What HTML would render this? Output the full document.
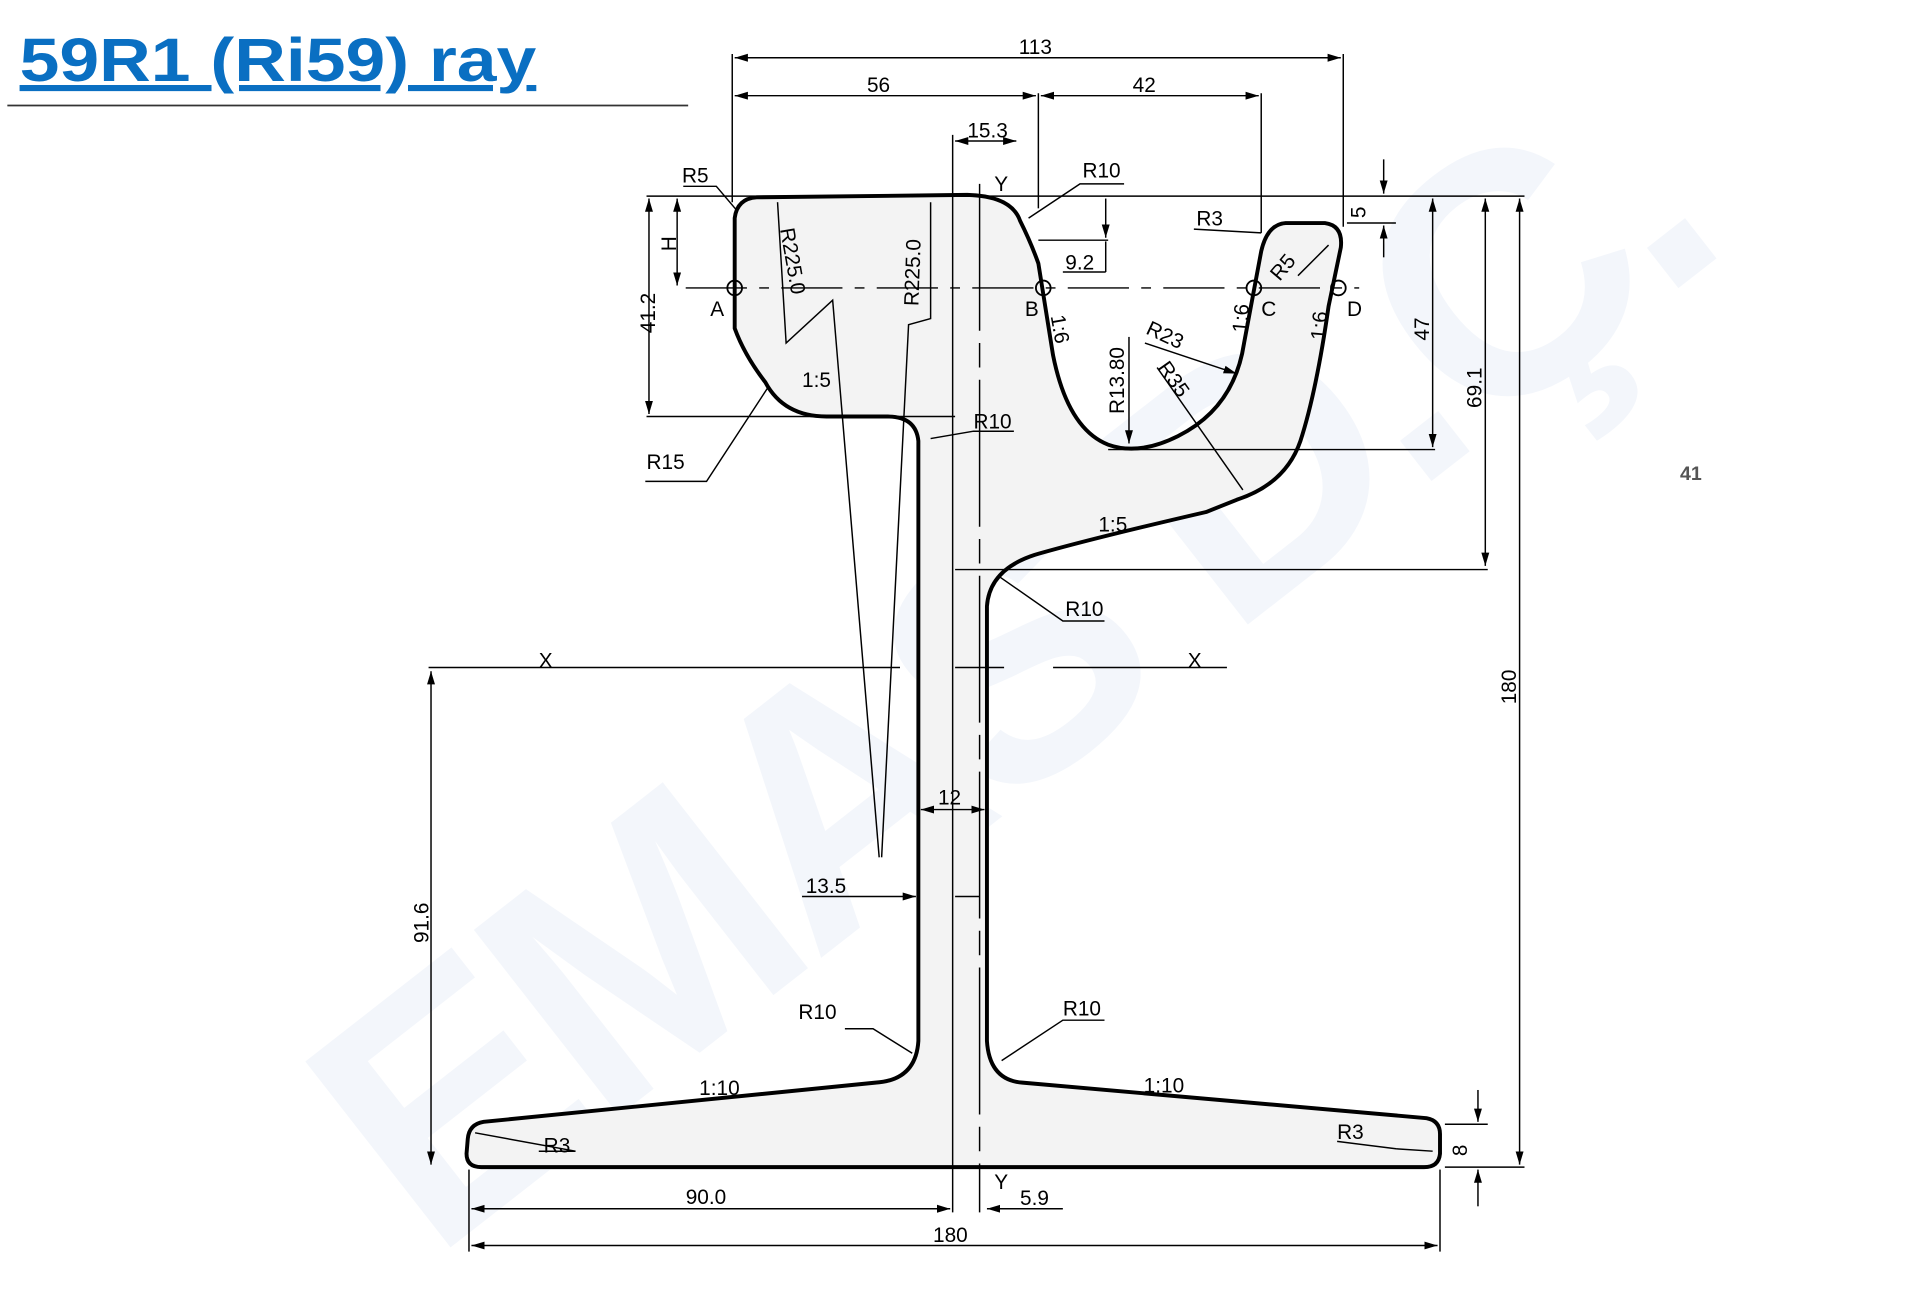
<!DOCTYPE html>
<html><head><meta charset="utf-8"><style>
html,body{margin:0;padding:0;background:#fff;}
svg{display:block;}
text{font-family:"Liberation Sans",sans-serif;}
.d{stroke:#000;stroke-width:1.2;fill:none;}
.t{font-size:17px;fill:#000;}
</style></head><body>
<svg width="1920" height="1302" viewBox="0 0 1568 1063" xmlns="http://www.w3.org/2000/svg">
<defs><marker id="a" viewBox="0 0 10 10" refX="10" refY="5" markerWidth="9" markerHeight="9" orient="auto-start-reverse"><path d="M0,2 L10,5 L0,8 z" fill="#000"/></marker></defs>
<!-- watermark -->
<g fill="#f3f6fb" font-size="280" font-weight="bold" transform="rotate(-38 760 560)"><text x="150" y="680" textLength="1350" style="font-family:'Liberation Sans',sans-serif">EMAS D.Ç.</text></g>
<!-- title -->
<text x="16" y="66" font-size="50" font-weight="bold" fill="#0a6fc2" text-decoration="underline" textLength="422" lengthAdjust="spacingAndGlyphs" style="font-family:'Liberation Sans',sans-serif">59R1 (Ri59) ray</text>
<line x1="6" y1="86" x2="562" y2="86" stroke="#333" stroke-width="1.5"/>
<text x="1372" y="392" font-size="16" fill="#555" font-weight="bold">41</text>
<!-- rail -->
<path fill="#f3f3f3" stroke="#000" stroke-width="3.2" stroke-linejoin="round" d="
M600,178 Q602,162 618,161 L790,159 Q826,160 833,180 Q842,198 848,215 L860,290 Q872,350 905,363 Q930,372 962,356 Q1008,333 1016,280 L1030,205 Q1035,183 1050,182 L1082,182 Q1097,184 1095,202 L1085,250 Q1075,320 1062,360 Q1050,395 1010,408 L985,418 Q890,440 845,453 Q808,465 806,495 L806,850 Q808,882 835,884 L1165,913 Q1176,915 1176,926 L1176,942 Q1175,953 1163,953 L393,953 Q381,953 381,942 L382,930 Q383,918 395,916 L715,884 Q748,882 750,850 L750,360 Q748,340 725,340 L675,340 Q640,340 625,312 Q608,290 600,268 Z"/>
<!-- centre lines -->
<g class="d">
<line x1="778" y1="110" x2="778" y2="990"/>
<line x1="800" y1="150" x2="800" y2="990" stroke-dasharray="120 10 20 10"/>
<line x1="560" y1="235" x2="1110" y2="235" stroke-dasharray="50 10 8 10"/>
<line x1="350" y1="545" x2="735" y2="545"/><line x1="780" y1="545" x2="820" y2="545"/><line x1="860" y1="545" x2="1002" y2="545"/>
</g>
<g fill="none" stroke="#000" stroke-width="1.5"><circle cx="600" cy="235" r="6"/><circle cx="852" cy="235" r="6"/><circle cx="1024" cy="235" r="6"/><circle cx="1093" cy="235" r="6"/></g>
<!-- dimension lines -->
<g class="d">
<line x1="598" y1="44" x2="598" y2="165"/><line x1="1097" y1="44" x2="1097" y2="185"/>
<line x1="600" y1="47" x2="1095" y2="47" marker-start="url(#a)" marker-end="url(#a)"/>
<line x1="848" y1="76" x2="848" y2="170"/><line x1="1030" y1="76" x2="1030" y2="190"/>
<line x1="600" y1="78" x2="846" y2="78" marker-start="url(#a)" marker-end="url(#a)"/>
<line x1="850" y1="78" x2="1028" y2="78" marker-start="url(#a)" marker-end="url(#a)"/>
<line x1="780" y1="115" x2="830" y2="115" marker-start="url(#a)" marker-end="url(#a)"/>
<line x1="528" y1="160" x2="1245" y2="160"/>
<line x1="530" y1="162" x2="530" y2="338" marker-start="url(#a)" marker-end="url(#a)"/>
<line x1="528" y1="340" x2="780" y2="340"/>
<line x1="553" y1="162" x2="553" y2="233" marker-start="url(#a)" marker-end="url(#a)"/>
<line x1="848" y1="196" x2="905" y2="196"/><line x1="903" y1="162" x2="903" y2="194" marker-end="url(#a)"/>
<line x1="903" y1="197" x2="903" y2="222"/><line x1="868" y1="222" x2="903" y2="222"/>
<line x1="1100" y1="182" x2="1140" y2="182"/><line x1="1130" y1="130" x2="1130" y2="158" marker-end="url(#a)"/><line x1="1130" y1="184" x2="1130" y2="210" marker-start="url(#a)"/>
<line x1="1170" y1="162" x2="1170" y2="365" marker-start="url(#a)" marker-end="url(#a)"/>
<line x1="905" y1="367" x2="1172" y2="367"/>
<line x1="1213" y1="162" x2="1213" y2="462" marker-start="url(#a)" marker-end="url(#a)"/>
<line x1="780" y1="465" x2="1215" y2="465"/>
<line x1="1241" y1="162" x2="1241" y2="951" marker-start="url(#a)" marker-end="url(#a)"/>
<line x1="1180" y1="953" x2="1245" y2="953"/>
<line x1="1180" y1="918" x2="1215" y2="918"/><line x1="1207" y1="890" x2="1207" y2="916" marker-end="url(#a)"/><line x1="1207" y1="955" x2="1207" y2="985" marker-start="url(#a)"/>
<line x1="352" y1="548" x2="352" y2="951" marker-start="url(#a)" marker-end="url(#a)"/>
<line x1="383" y1="955" x2="383" y2="1022"/><line x1="1176" y1="955" x2="1176" y2="1022"/>
<line x1="385" y1="987" x2="776" y2="987" marker-start="url(#a)" marker-end="url(#a)"/>
<line x1="385" y1="1017" x2="1174" y2="1017" marker-start="url(#a)" marker-end="url(#a)"/>
<line x1="806" y1="987" x2="868" y2="987" marker-start="url(#a)"/>
<line x1="752" y1="661" x2="804" y2="661" marker-start="url(#a)" marker-end="url(#a)"/>
<line x1="655" y1="732" x2="748" y2="732" marker-end="url(#a)"/><line x1="780" y1="732" x2="800" y2="732"/>
<!-- leaders -->
<polyline points="558,152 585,152 602,172"/>
<polyline points="918,150 882,150 840,178"/>
<polyline points="975,187 1030,190"/>
<polyline points="1085,200 1060,225"/>
<polyline points="527,393 577,393 628,315"/>
<polyline points="828,352 795,352 760,358"/>
<polyline points="902,507 868,507 815,470"/>
<polyline points="690,840 713,840 745,860"/>
<polyline points="902,833 868,833 818,866"/>
<polyline points="440,940 470,940 388,925"/>
<polyline points="1092,932 1140,938 1170,940"/>
<polyline points="935,280 1010,305" marker-end="url(#a)"/>
<polyline points="945,300 1015,400"/>
<line x1="922" y1="275" x2="922" y2="362" marker-end="url(#a)"/>
<polyline points="635,165 642,280 680,245 718,700"/>
<polyline points="760,165 760,260 742,265 720,700"/>
</g>
<!-- labels -->
<g class="t">
<text x="832" y="44">113</text><text x="708" y="75">56</text><text x="925" y="75">42</text>
<text x="790" y="112">15.3</text><text x="812" y="156">Y</text>
<text x="557" y="149">R5</text><text x="884" y="145">R10</text><text x="977" y="184">R3</text>
<text x="870" y="220">9.2</text><text x="580" y="258">A</text><text x="837" y="258">B</text><text x="1030" y="258">C</text><text x="1100" y="258">D</text>
<text x="528" y="383">R15</text><text x="795" y="350">R10</text><text x="870" y="503">R10</text>
<text x="440" y="545">X</text><text x="970" y="545">X</text>
<text x="766" y="657">12</text><text x="658" y="729">13.5</text>
<text x="652" y="832">R10</text><text x="868" y="829">R10</text>
<text x="571" y="894">1:10</text><text x="934" y="892">1:10</text>
<text x="444" y="941">R3</text><text x="1092" y="930">R3</text>
<text x="560" y="983">90.0</text><text x="812" y="971">Y</text><text x="833" y="984">5.9</text><text x="762" y="1014">180</text>
<text x="897" y="434">1:5</text><text x="655" y="316">1:5</text>
<text transform="translate(535,272) rotate(-90)">41.2</text>
<text transform="translate(552,205) rotate(-90)">H</text>
<text transform="translate(1167,278) rotate(-90)">47</text>
<text transform="translate(1210,333) rotate(-90)">69.1</text>
<text transform="translate(1238,575) rotate(-90)">180</text>
<text transform="translate(350,770) rotate(-90)">91.6</text>
<text transform="translate(1198,944) rotate(-90)">8</text>
<text transform="translate(1115,178) rotate(-90)">5</text>
<text transform="translate(918,338) rotate(-90)">R13.80</text>
<text transform="translate(637,187) rotate(80)">R225.0</text>
<text transform="translate(750,250) rotate(-88)">R225.0</text>
<text transform="translate(935,272) rotate(25)">R23</text>
<text transform="translate(945,300) rotate(55)">R35</text>
<text transform="translate(1045,230) rotate(-50)">R5</text>
<text transform="translate(858,258) rotate(80)">1:6</text>
<text transform="translate(1018,272) rotate(-85)">1:6</text>
<text transform="translate(1082,278) rotate(-85)">1:6</text>
</g>
</svg>
</body></html>
